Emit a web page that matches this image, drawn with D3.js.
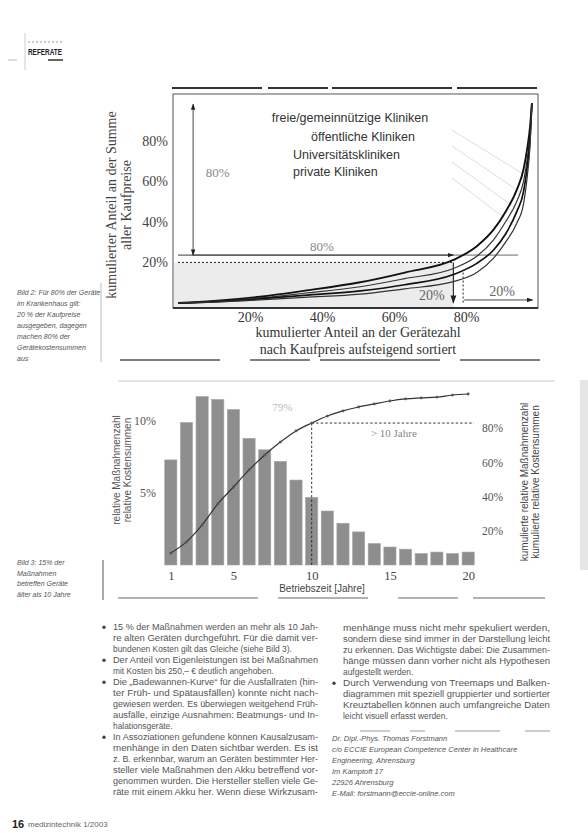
<!DOCTYPE html>
<html><head><meta charset="utf-8">
<script src="https://cdn.jsdelivr.net/npm/d3@7"></script>
<style>
html,body{margin:0;padding:0;background:#fff;}
svg{display:block;}
</style></head>
<body>
<script>
// ---------------- DATA ----------------
// Chart 1 (Lorenz curves): cumulative share of device count (x, %) vs cumulative share of purchase prices (y, %)
const lorenzX = [0, 10, 22.8, 35, 50.6, 63, 76.5, 83, 87.6, 91, 94.1, 96, 97, 97.8, 98.3];
const freieKliniken      = [0, 1.0, 3.1, 6.0, 10.2, 15, 21.2, 28, 36, 45, 55.7, 66, 76, 87, 98.4];
const oeffentlKliniken   = [0, 0.8, 2.5, 4.8, 8.0, 12, 17.0, 23, 31, 40, 50.0, 60, 71, 84, 98.4];
const uniKliniken        = [0, 0.6, 2.0, 3.8, 6.0, 9, 14.0, 19.5, 26, 34, 45.0, 55, 67, 81, 98.4];
const privateKliniken    = [0, 0.4, 1.5, 2.8, 4.4, 7, 10.5, 15, 22, 30, 39.3, 49, 62, 78, 98.4];
const lorenzNames = ["freie/gemeinnützige Kliniken", "öffentliche Kliniken", "Universitätskliniken", "private Kliniken"];
const chart1Ticks = [20, 40, 60, 80];

// Chart 2: operating time (years) vs relative share of measures / cumulative share
const years = [1,2,3,4,5,6,7,8,9,10,11,12,13,14,15,16,17,18,19,20];
const relShare = [7.3, 9.9, 11.7, 11.5, 10.8, 8.8, 8.0, 7.2, 5.9, 4.7, 3.75, 2.9, 2.3, 1.5, 1.25, 1.1, 0.8, 0.9, 0.8, 0.9];
const cumShare = [7.0, 13.5, 23.4, 35.7, 45.6, 55.6, 64.3, 71.9, 78.4, 83.0, 87.1, 90.1, 92.4, 94.2, 95.9, 97.1, 97.7, 98.2, 99.4, 100];
const yearTicks = [1, 5, 10, 15, 20];
const leftTicks = [5, 10];
const rightTicks = [20, 40, 60, 80];

// Page text
const leftColumn = [
  {b:true, t:"15 % der Maßnahmen werden an mehr als 10 Jah-"},
  {t:"re alten Geräten durchgeführt. Für die damit ver-"},
  {t:"bundenen Kosten gilt das Gleiche (siehe Bild 3).", last:true},
  {b:true, t:"Der Anteil von Eigenleistungen ist bei Maßnahmen"},
  {t:"mit Kosten bis 250,– € deutlich angehoben.", last:true},
  {b:true, t:"Die „Badewannen-Kurve“ für die Ausfallraten (hin-"},
  {t:"ter Früh- und Spätausfällen) konnte nicht nach-"},
  {t:"gewiesen werden. Es überwiegen weitgehend Früh-"},
  {t:"ausfälle, einzige Ausnahmen: Beatmungs- und In-"},
  {t:"halationsgeräte.", last:true},
  {b:true, t:"In Assoziationen gefundene können Kausalzusam-"},
  {t:"menhänge in den Daten sichtbar werden. Es ist"},
  {t:"z. B. erkennbar, warum an Geräten bestimmter Her-"},
  {t:"steller viele Maßnahmen den Akku betreffend vor-"},
  {t:"genommen wurden. Die Hersteller stellen viele Ge-"},
  {t:"räte mit einem Akku her. Wenn diese Wirkzusam-"}
];
const rightColumn = [
  {t:"menhänge muss nicht mehr spekuliert werden,"},
  {t:"sondern diese sind immer in der Darstellung leicht"},
  {t:"zu erkennen. Das Wichtigste dabei: Die Zusammen-"},
  {t:"hänge müssen dann vorher nicht als Hypothesen"},
  {t:"aufgestellt werden.", last:true},
  {b:true, t:"Durch Verwendung von Treemaps und Balken-"},
  {t:"diagrammen mit speziell gruppierter und sortierter"},
  {t:"Kreuztabellen können auch umfangreiche Daten"},
  {t:"leicht visuell erfasst werden.", last:true}
];
const authorLines = [
  "Dr. Dipl.-Phys. Thomas Forstmann",
  "c/o ECCIE European Competence Center in Healthcare",
  "Engineering, Ahrensburg",
  "Im Kamptoft 17",
  "22926 Ahrensburg",
  "E-Mail: forstmann@eccie-online.com"
];
const caption1 = ["Bild 2: Für 80% der Geräte", "im Krankenhaus gilt:", "20 % der Kaufpreise", "ausgegeben, dagegen", "machen 80% der", "Gerätekostensummen", "aus"];
const caption2 = ["Bild 3: 15% der", "Maßnahmen", "betreffen Geräte", "älter als 10 Jahre"];

// ---------------- DRAW ----------------
const W = 588, H = 833;
const svg = d3.select("body").append("svg").attr("width", W).attr("height", H);
const SERIF = "'Liberation Serif','DejaVu Serif',serif";
const SANS = "'Liberation Sans',Arial,sans-serif";

const defs = svg.append("defs");
function marker(id, color){
  defs.append("marker").attr("id", id).attr("viewBox","0 0 10 10").attr("refX",9).attr("refY",5)
    .attr("markerWidth",7).attr("markerHeight",7).attr("orient","auto-start-reverse")
    .append("path").attr("d","M0,1.5L10,5L0,8.5Z").attr("fill",color);
}
marker("arrBlack", "#222");

// page header
svg.append("line").attr("x1",25).attr("x2",25).attr("y1",33).attr("y2",70).attr("stroke","#ccc");
svg.append("line").attr("x1",28).attr("x2",62).attr("y1",42).attr("y2",42).attr("stroke","#999").attr("stroke-dasharray","2,2");
svg.append("text").attr("x",28).attr("y",55).attr("font-family",SANS).attr("font-weight","bold")
  .attr("font-size",8.5).attr("textLength",34).attr("lengthAdjust","spacingAndGlyphs").attr("fill","#222").text("REFERATE");
svg.append("line").attr("x1",48).attr("x2",63).attr("y1",60).attr("y2",60).attr("stroke","#333").attr("stroke-width",1.5);
svg.append("line").attr("x1",8).attr("x2",17).attr("y1",60).attr("y2",60).attr("stroke","#bbb");

// ---------------- CHART 1 ----------------
const x1 = d3.scaleLinear().domain([0,100]).range([178,538]);
const y1 = d3.scaleLinear().domain([0,100]).range([303,100]);
const c1 = svg.append("g");

c1.append("line").attr("x1",172).attr("x2",540).attr("y1",88).attr("y2",88).attr("stroke","#333").attr("stroke-width",2).attr("stroke-dasharray","90,6,60,4,120,5,80");
c1.append("line").attr("x1",120).attr("x2",545).attr("y1",360).attr("y2",360).attr("stroke","#555").attr("stroke-width",1.5).attr("stroke-dasharray","100,30,60,10,120,20,80");

c1.append("rect").attr("x",174).attr("y",y1(20)).attr("width",x1(76.5)-174).attr("height",307-y1(20)).attr("fill","#ececec");
c1.append("rect").attr("x",173).attr("y",94).attr("width",365).attr("height",214).attr("fill","none").attr("stroke","#555").attr("stroke-width",1);
c1.append("line").attr("x1",173).attr("x2",538).attr("y1",308).attr("y2",308).attr("stroke","#333").attr("stroke-width",2);

const leaders = [[0,130,95.6],[1,146,95.0],[2,162,94.3],[3,178,93.6]];
const series1 = [freieKliniken, oeffentlKliniken, uniKliniken, privateKliniken];
leaders.forEach(([i, ys, xv]) => {
  const yv = d3.scaleLinear().domain(lorenzX).range(series1[i])(xv);
  c1.append("line").attr("x1",452).attr("y1",ys).attr("x2",x1(xv)).attr("y2",y1(yv)).attr("stroke","#d6d6d6").attr("stroke-width",0.8);
});

c1.append("line").attr("x1",x1(0)).attr("x2",x1(76.5)).attr("y1",y1(20)).attr("y2",y1(20))
  .attr("stroke","#222").attr("stroke-width",1).attr("stroke-dasharray","2,2");
c1.append("line").attr("x1",x1(4)).attr("x2",x1(100)-20).attr("y1",y1(23.6)).attr("y2",y1(23.6)).attr("stroke","#444").attr("stroke-width",0.8);
c1.append("line").attr("x1",x1(0)).attr("x2",x1(76.5)).attr("y1",y1(23.6)).attr("y2",y1(23.6))
  .attr("stroke","#222").attr("stroke-width",0.9).attr("marker-end","url(#arrBlack)");
c1.append("line").attr("x1",x1(4.2)).attr("x2",x1(4.2)).attr("y1",y1(98)).attr("y2",y1(23.6))
  .attr("stroke","#333").attr("stroke-width",0.9).attr("marker-end","url(#arrBlack)").attr("marker-start","url(#arrBlack)");
c1.append("text").attr("x",x1(11)).attr("y",y1(64)+4).attr("font-family",SERIF).attr("font-size",13).attr("fill","#888").attr("text-anchor","middle").text("80%");
c1.append("text").attr("x",x1(40)).attr("y",y1(23.6)-4).attr("font-family",SERIF).attr("font-size",13).attr("fill","#888").attr("text-anchor","middle").text("80%");
c1.append("line").attr("x1",x1(76.5)).attr("x2",x1(76.5)).attr("y1",y1(20)).attr("y2",y1(0))
  .attr("stroke","#333").attr("stroke-width",1.2).attr("marker-end","url(#arrBlack)");
c1.append("line").attr("x1",x1(79.2)).attr("x2",x1(79.2)).attr("y1",y1(15)).attr("y2",y1(0))
  .attr("stroke","#222").attr("stroke-width",1).attr("stroke-dasharray","2,2");
c1.append("line").attr("x1",x1(79.5)).attr("x2",x1(98.5)).attr("y1",y1(1.5)).attr("y2",y1(1.5))
  .attr("stroke","#333").attr("stroke-width",0.9).attr("marker-end","url(#arrBlack)");
c1.append("text").attr("x",x1(70.5)).attr("y",y1(3.5)+4).attr("font-family",SERIF).attr("font-size",14).attr("fill","#666").attr("text-anchor","middle").text("20%");
c1.append("text").attr("x",x1(90)).attr("y",y1(5.5)+4).attr("font-family",SERIF).attr("font-size",14).attr("fill","#666").attr("text-anchor","middle").text("20%");

const lineGen = d3.line().x((d,i)=>x1(lorenzX[i])).y(d=>y1(d)).curve(d3.curveMonotoneX);
const widths = [1.9, 1.2, 1.7, 1.2];
series1.forEach((s,i)=>{
  c1.append("path").attr("d", lineGen(s)).attr("fill","none").attr("stroke", i%2? "#333":"#111").attr("stroke-width",widths[i]);
});

const legPos = [[350,122,"middle"],[363,141,"middle"],[293,159,"start"],[293,176,"start"]];
lorenzNames.forEach((n,i)=>{
  c1.append("text").attr("x",legPos[i][0]).attr("y",legPos[i][1]).attr("text-anchor",legPos[i][2])
    .attr("font-family",SANS).attr("font-size",12.5).attr("fill","#333").text(n);
});

const ax1x = d3.axisBottom(x1).tickValues(chart1Ticks).tickFormat(d=>d+"%").tickSize(0).tickPadding(0);
const gx1 = c1.append("g").attr("transform","translate(0,322)").call(ax1x);
gx1.select(".domain").remove();
gx1.selectAll("text").attr("font-family",SERIF).attr("font-size",14).attr("fill","#333").attr("dy",0);
const ax1y = d3.axisLeft(y1).tickValues(chart1Ticks).tickFormat(d=>d+"%").tickSize(0).tickPadding(0);
const gy1 = c1.append("g").attr("transform","translate(168,0)").call(ax1y);
gy1.select(".domain").remove();
gy1.selectAll("text").attr("font-family",SERIF).attr("font-size",14).attr("fill","#444");

c1.append("text").attr("transform","translate(116,205) rotate(-90)").attr("text-anchor","middle")
  .attr("font-family",SERIF).attr("font-size",14).attr("fill","#444").text("kumulierter Anteil an der Summe");
c1.append("text").attr("transform","translate(131,205) rotate(-90)").attr("text-anchor","middle")
  .attr("font-family",SERIF).attr("font-size",14).attr("fill","#444").text("aller Kaufpreise");
c1.append("text").attr("x",358).attr("y",337).attr("text-anchor","middle").attr("font-family",SERIF).attr("font-size",14).attr("fill","#333").text("kumulierter Anteil an der Gerätezahl");
c1.append("text").attr("x",358).attr("y",354).attr("text-anchor","middle").attr("font-family",SERIF).attr("font-size",14).attr("fill","#333").text("nach Kaufpreis aufsteigend sortiert");

// ---------------- CHART 2 ----------------
const c2 = svg.append("g");
c2.append("line").attr("x1",118).attr("x2",555).attr("y1",381).attr("y2",381).attr("stroke","#ccc").attr("stroke-width",1);
c2.append("line").attr("x1",118).attr("x2",545).attr("y1",598).attr("y2",598).attr("stroke","#666").attr("stroke-width",1.2).attr("stroke-dasharray","140,20,90,30,60,15,100");

const xb = d3.scaleBand().domain(years).range([163,476]).paddingInner(0.22).paddingOuter(0.11);
const yL = d3.scaleLinear().domain([0,10]).range([565,421]);
const yR = d3.scaleLinear().domain([0,100]).range([565,394]);

c2.selectAll("rect.bar").data(years).enter().append("rect").attr("class","bar")
  .attr("x", d=>xb(d)).attr("width", xb.bandwidth())
  .attr("y", (d,i)=>yL(relShare[i])).attr("height",(d,i)=>yL(0)-yL(relShare[i]))
  .attr("fill","#8e8e8e").attr("stroke","#a8a8a8").attr("stroke-width",0.6);

const cx = d => xb(d)+xb.bandwidth()/2;
const y10 = yR(cumShare[years.indexOf(10)]);
c2.append("line").attr("x1",cx(10)).attr("x2",cx(10)).attr("y1",y10).attr("y2",yL(0)).attr("stroke","#222").attr("stroke-width",0.9).attr("stroke-dasharray","2.5,2");
c2.append("line").attr("x1",cx(10)).attr("x2",xb.range()[1]-2).attr("y1",y10).attr("y2",y10).attr("stroke","#222").attr("stroke-width",0.9).attr("stroke-dasharray","2.5,2");
c2.append("text").attr("x",(cx(10)+xb.range()[1])/2).attr("y",y10+14).attr("text-anchor","middle").attr("font-family",SERIF).attr("font-size",11).attr("fill","#888").text("> 10 Jahre");
c2.append("text").attr("x",cx(8)+2).attr("y",y10-12).attr("text-anchor","middle").attr("font-family",SERIF).attr("font-size",11).attr("fill","#bbb").text("79%");

const cumLine = d3.line().x(d=>cx(d)).y((d,i)=>yR(cumShare[i])).curve(d3.curveMonotoneX);
c2.append("path").attr("d",cumLine(years)).attr("fill","none").attr("stroke","#333").attr("stroke-width",1.2);
c2.selectAll("circle.pt").data(years).enter().append("circle").attr("class","pt")
  .attr("cx",d=>cx(d)).attr("cy",(d,i)=>yR(cumShare[i])).attr("r",1.4).attr("fill","#555");

const ax2x = d3.axisBottom(d3.scaleLinear().domain([1,20]).range([cx(1),cx(20)])).tickValues(yearTicks).tickFormat(d3.format("d")).tickSize(0).tickPadding(0);
const gx2 = c2.append("g").attr("transform","translate(0,580)").call(ax2x);
gx2.select(".domain").remove();
gx2.selectAll("text").attr("font-family",SERIF).attr("font-size",12.5).attr("fill","#444").attr("dy",0);

const ax2l = d3.axisLeft(yL).tickValues(leftTicks).tickFormat(d=>d+"%").tickSize(0).tickPadding(0);
const gl = c2.append("g").attr("transform","translate(156,0)").call(ax2l);
gl.select(".domain").remove();
gl.selectAll("text").attr("font-family",SERIF).attr("font-size",12).attr("fill","#555");

const ax2r = d3.axisRight(yR).tickValues(rightTicks).tickFormat(d=>d+"%").tickSize(0).tickPadding(0);
const gr = c2.append("g").attr("transform","translate(482,0)").call(ax2r);
gr.select(".domain").remove();
gr.selectAll("text").attr("font-family",SERIF).attr("font-size",11.5).attr("fill","#555");

c2.append("text").attr("x",322).attr("y",592).attr("text-anchor","middle").attr("font-family",SANS).attr("font-size",10).attr("fill","#444").text("Betriebszeit [Jahre]");
c2.append("text").attr("transform","translate(120,470) rotate(-90)").attr("text-anchor","middle").attr("font-family",SANS).attr("font-size",10).attr("fill","#555").text("relative Maßnahmenzahl");
c2.append("text").attr("transform","translate(131,470) rotate(-90)").attr("text-anchor","middle").attr("font-family",SANS).attr("font-size",10).attr("fill","#555").text("relative Kostensummen");
c2.append("text").attr("transform","translate(528,482) rotate(-90)").attr("text-anchor","middle").attr("font-family",SANS).attr("font-size",10).attr("fill","#444").text("kumulierte relative Maßnahmenzahl");
c2.append("text").attr("transform","translate(539,482) rotate(-90)").attr("text-anchor","middle").attr("font-family",SANS).attr("font-size",10).attr("fill","#444").text("kumulierte relative Kostensummen");

// ---------------- CAPTIONS ----------------
svg.append("line").attr("x1",101).attr("x2",101).attr("y1",283).attr("y2",362).attr("stroke","#bbb");
svg.append("line").attr("x1",103).attr("x2",103).attr("y1",560).attr("y2",600).attr("stroke","#555");
caption1.forEach((t,i)=>svg.append("text").attr("x",17).attr("y",295+i*11).attr("font-family",SANS).attr("font-style","italic").attr("font-size",7).attr("fill","#555").text(t));
caption2.forEach((t,i)=>svg.append("text").attr("x",17).attr("y",565+i*10.5).attr("font-family",SANS).attr("font-style","italic").attr("font-size",7).attr("fill","#555").text(t));

// ---------------- BODY TEXT ----------------
function column(lines, x, xEnd, y0, step){
  lines.forEach((l,i)=>{
    const y = y0 + i*step;
    if(l.b) svg.append("circle").attr("cx",x-9).attr("cy",y-2.8).attr("r",1.7).attr("fill","#444");
    const t = svg.append("text").attr("x",x).attr("y",y).attr("font-family",SANS).attr("font-size",8.4).attr("fill","#555").text(l.t);
    if(!l.last) t.attr("textLength",xEnd-x).attr("lengthAdjust","spacingAndGlyphs");
  });
}
column(leftColumn, 113, 318, 630, 11);
column(rightColumn, 343, 550, 631, 11);
svg.append("line").attr("x1",360).attr("x2",550).attr("y1",731).attr("y2",731).attr("stroke","#999").attr("stroke-dasharray","30,20,15,30,45,25");
authorLines.forEach((t,i)=>svg.append("text").attr("x",332).attr("y",741+i*11).attr("font-family",SANS).attr("font-style","italic").attr("font-size",7.5).attr("fill","#555").text(t));

// footer
svg.append("text").attr("x",12).attr("y",828).attr("font-family",SANS).attr("font-weight","bold").attr("font-size",11).attr("fill","#222").text("16");
svg.append("text").attr("x",28).attr("y",827).attr("font-family",SANS).attr("font-size",8).attr("fill","#666").text("medizintechnik 1/2003");

svg.append("rect").attr("x",580).attr("y",380).attr("width",8).attr("height",190).attr("fill","#e6e6e6");
</script>
</body></html>
